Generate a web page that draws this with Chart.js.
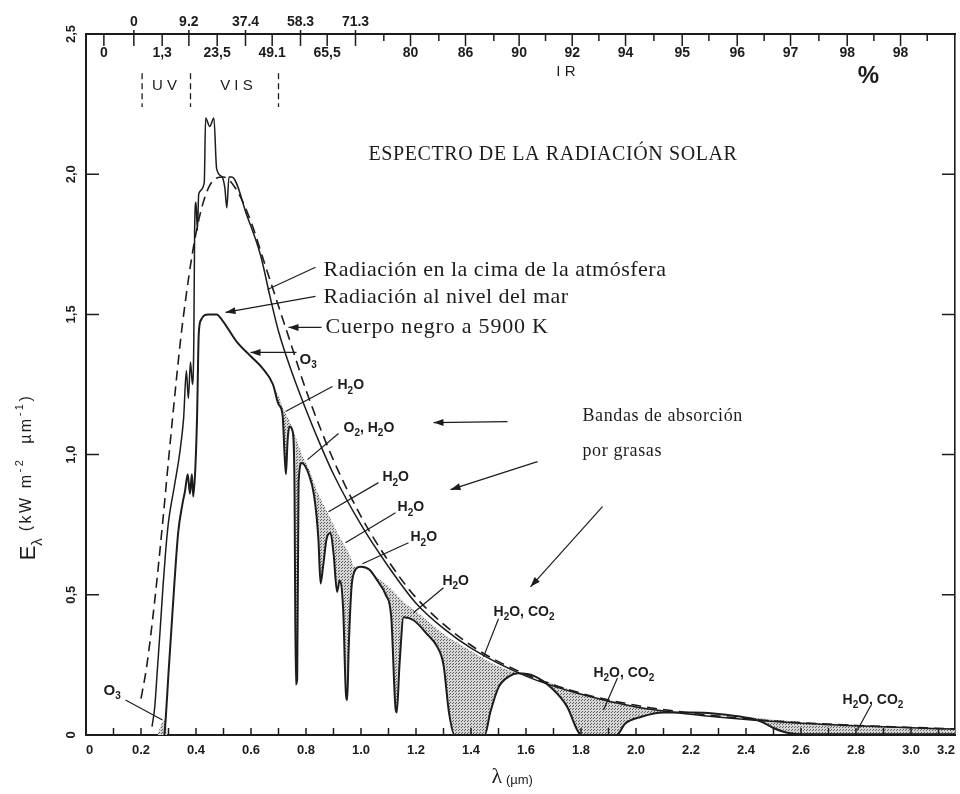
<!DOCTYPE html>
<html lang="es">
<head>
<meta charset="UTF-8">
<title>Espectro de la radiación solar</title>
<script src="https://cdn.jsdelivr.net/npm/chart.js@4"></script>
<style>
  body { margin: 0; background: #fff; }
  canvas { display: block; }
</style>
</head>
<body>
<canvas id="chart" width="960" height="794"></canvas>
<script>
// ---- data (wavelength in µm, E in kW m-2 µm-1) ----
const bbLambda = [0.2, 0.22, 0.25, 0.28, 0.3, 0.33, 0.35, 0.4, 0.45, 0.5, 0.55, 0.6, 0.65, 0.7, 0.75, 0.8, 0.9, 1.0, 1.1, 1.2, 1.4, 1.6, 1.8, 2.0, 2.2, 2.4, 2.6, 2.8, 3.0, 3.16];
const bbE      = [0.13, 0.24, 0.48, 0.77, 0.98, 1.28, 1.46, 1.79, 1.96, 1.99, 1.94, 1.83, 1.68, 1.53, 1.38, 1.23, 0.98, 0.78, 0.62, 0.49, 0.32, 0.216, 0.149, 0.106, 0.078, 0.058, 0.044, 0.034, 0.027, 0.022];

const toaLambda = [0.24, 0.25, 0.26, 0.27, 0.28, 0.29, 0.3, 0.32, 0.34, 0.355, 0.365, 0.372, 0.38, 0.387, 0.392, 0.395, 0.4, 0.405, 0.41, 0.43, 0.435, 0.45, 0.465, 0.475, 0.495, 0.505, 0.512, 0.52, 0.53, 0.586, 0.635, 0.67, 0.7, 0.75, 0.8, 0.85, 0.9, 1.0, 1.1, 1.2, 1.3, 1.4, 1.6, 1.8, 2.0, 2.2, 2.4, 2.6, 2.8, 3.0, 3.16];
const toaE      = [0.03, 0.1, 0.24, 0.38, 0.53, 0.66, 0.76, 0.88, 1.0, 1.13, 1.3, 1.2, 1.33, 1.25, 1.4, 1.8, 1.9, 1.8, 1.93, 1.97, 2.2, 2.17, 2.2, 2.02, 1.99, 1.95, 1.88, 1.99, 1.99, 1.85, 1.71, 1.56, 1.44, 1.29, 1.16, 1.04, 0.93, 0.75, 0.6, 0.47, 0.38, 0.31, 0.21, 0.145, 0.1, 0.074, 0.055, 0.042, 0.033, 0.026, 0.021];

const seaLambda = [0.285, 0.29, 0.3, 0.31, 0.32, 0.335, 0.35, 0.36, 0.37, 0.378, 0.385, 0.39, 0.398, 0.404, 0.41, 0.418, 0.445, 0.475, 0.495, 0.55,
                   0.6, 0.64, 0.68, 0.7, 0.715, 0.722, 0.727, 0.733, 0.74, 0.752, 0.758, 0.763, 0.768, 0.773, 0.785, 0.81, 0.83, 0.845, 0.853, 0.862,
                   0.875, 0.889, 0.9, 0.913, 0.922, 0.935, 0.945, 0.95, 0.955, 0.965, 0.975, 1.0, 1.03, 1.06, 1.09, 1.11, 1.125, 1.13, 1.14, 1.155,
                   1.19, 1.24, 1.277, 1.3, 1.32, 1.34, 1.45, 1.47, 1.5, 1.54, 1.57, 1.63, 1.69, 1.75, 1.785, 1.8, 1.93, 1.96, 2.02, 2.1,
                   2.2, 2.3, 2.4, 2.45, 2.5, 2.55, 2.6, 3.16];
const seaE      = [0, 0.06, 0.22, 0.37, 0.52, 0.72, 0.82, 0.87, 0.93, 0.86, 0.93, 0.85, 0.96, 1.14, 1.43, 1.48, 1.5, 1.5, 1.48, 1.4,
                   1.35, 1.31, 1.25, 1.18, 1.14, 1.0, 0.93, 1.05, 1.1, 1.08, 0.9, 0.18, 0.2, 0.9, 0.97, 0.93, 0.85, 0.7, 0.54, 0.6,
                   0.7, 0.72, 0.65, 0.51, 0.55, 0.45, 0.15, 0.125, 0.3, 0.52, 0.58, 0.6, 0.59, 0.55, 0.5, 0.42, 0.1, 0.08, 0.25, 0.42,
                   0.41, 0.36, 0.315, 0.25, 0.08, 0, 0, 0.08, 0.17, 0.21, 0.22, 0.21, 0.17, 0.1, 0.02, 0, 0, 0.04, 0.065, 0.08,
                   0.08, 0.075, 0.062, 0.05, 0.025, 0.008, 0.003, 0.003];

// upper edge of the shaded absorption bands
const bandLambda = [0.68, 0.7, 0.715, 0.74, 0.76, 0.785, 0.81, 0.84, 0.88, 0.92, 0.96, 0.975, 1.0, 1.06, 1.1, 1.13, 1.16, 1.2, 1.25, 1.3, 1.4, 1.5, 1.57, 1.65, 1.75, 1.85, 1.95, 2.05, 2.15, 2.3, 2.45, 2.6, 2.8, 3.0, 3.16];
const bandE      = [1.25, 1.21, 1.17, 1.12, 1.07, 1.0, 0.95, 0.87, 0.79, 0.71, 0.64, 0.6, 0.6, 0.56, 0.53, 0.5, 0.47, 0.44, 0.4, 0.36, 0.3, 0.245, 0.22, 0.2, 0.165, 0.135, 0.112, 0.095, 0.08, 0.074, 0.06, 0.046, 0.036, 0.028, 0.022];
const ozoneLambda = [0.26, 0.27, 0.28, 0.29, 0.296];
const ozoneE      = [0, 0.03, 0.05, 0.06, 0];

// axis ticks and labels
const xTickVals   = [0, 0.2, 0.4, 0.6, 0.8, 1.0, 1.2, 1.4, 1.6, 1.8, 2.0, 2.2, 2.4, 2.6, 2.8, 3.0, 3.16];
const xTickLabels = ['0', '0.2', '0.4', '0.6', '0.8', '1.0', '1.2', '1.4', '1.6', '1.8', '2.0', '2.2', '2.4', '2.6', '2.8', '3.0', '3.2'];
const yTickVals   = [0, 0.5, 1, 1.5, 2, 2.5];
const yTickLabels = ['0', '0,5', '1,0', '1,5', '2,0', '2,5'];
// cumulative energy (%) scale along the top
const topTickPos  = [0.065, 0.174, 0.277, 0.374, 0.477, 0.58, 0.677, 0.78, 0.877, 0.98, 1.083, 1.18, 1.283, 1.38, 1.483, 1.575, 1.671, 1.768, 1.865, 1.962, 2.065, 2.168, 2.265, 2.368, 2.466, 2.562, 2.665, 2.768, 2.865, 2.962, 3.059];
const topTickText = ['0', '0', '1,3', '9.2', '23,5', '37.4', '49.1', '58.3', '65,5', '71.3', '', '80', '', '86', '', '90', '', '92', '', '94', '', '95', '', '96', '', '97', '', '98', '', '98', ''];
const topTickRow  = ['b', 'a', 'b', 'a', 'b', 'a', 'b', 'a', 'b', 'a', '', 'b', '', 'b', '', 'b', '', 'b', '', 'b', '', 'b', '', 'b', '', 'b', '', 'b', '', 'b', ''];

const INK = '#1c1c1c';
const SANS = '"Liberation Sans", Arial, sans-serif';
const SERIF = '"Liberation Serif", "Times New Roman", serif';

// annotations, placed in data units
const notes = [
    {t: 'ESPECTRO DE LA RADIACIÓN SOLAR', x: 1.027, y: 2.071, font: SERIF, size: 20, w: 'normal', ls: 0.6},
    {t: 'Radiación en la cima de la atmósfera', x: 0.8636, y: 1.657, font: SERIF, size: 22, w: 'normal', ls: 0.5},
    {t: 'Radiación al nivel del mar', x: 0.8636, y: 1.561, font: SERIF, size: 22, w: 'normal', ls: 0.5},
    {t: 'Cuerpo negro a 5900 K', x: 0.8709, y: 1.4536, font: SERIF, size: 22, w: 'normal', ls: 0.8},
    {t: 'Bandas de absorción', x: 1.8055, y: 1.1357, font: SERIF, size: 18, w: 'normal', ls: 0.6},
    {t: 'por grasas', x: 1.8055, y: 1.0107, font: SERIF, size: 18, w: 'normal', ls: 0.6},
    {t: 'O_3', x: 0.7764, y: 1.339, font: SANS, size: 15, w: 'bold', ls: 0},
    {t: 'H_2O', x: 0.9145, y: 1.246, font: SANS, size: 14, w: 'bold', ls: 0},
    {t: 'O_2, H_2O', x: 0.9364, y: 1.096, font: SANS, size: 14, w: 'bold', ls: 0},
    {t: 'H_2O', x: 1.078, y: 0.918, font: SANS, size: 14, w: 'bold', ls: 0},
    {t: 'H_2O', x: 1.133, y: 0.811, font: SANS, size: 14, w: 'bold', ls: 0},
    {t: 'H_2O', x: 1.18, y: 0.704, font: SANS, size: 14, w: 'bold', ls: 0},
    {t: 'H_2O', x: 1.296, y: 0.55, font: SANS, size: 14, w: 'bold', ls: 0},
    {t: 'H_2O, CO_2', x: 1.482, y: 0.439, font: SANS, size: 14, w: 'bold', ls: 0},
    {t: 'H_2O, CO_2', x: 1.845, y: 0.221, font: SANS, size: 14, w: 'bold', ls: 0},
    {t: 'H_2O, CO_2', x: 2.751, y: 0.125, font: SANS, size: 14, w: 'bold', ls: 0},
    {t: 'O_3', x: 0.0636, y: 0.157, font: SANS, size: 15, w: 'bold', ls: 0},
];
// leader lines [x1, y1, x2, y2, arrowhead at end]
const leaders = [
    [0.8345, 1.6679, 0.66, 1.589, false],
    [0.8345, 1.5643, 0.5073, 1.5071, true],
    [0.8564, 1.4536, 0.7364, 1.4536, true],
    [0.7655, 1.3643, 0.5982, 1.3643, true],
    [0.8964, 1.2429, 0.7255, 1.1536, false],
    [0.9182, 1.075, 0.8055, 0.9821, false],
    [1.0636, 0.9, 0.8818, 0.7964, false],
    [1.1255, 0.7929, 0.9436, 0.6857, false],
    [1.1727, 0.6857, 1.0055, 0.6107, false],
    [1.3, 0.525, 1.1909, 0.4357, false],
    [1.5, 0.4143, 1.4455, 0.2786, false],
    [1.9327, 0.2036, 1.8818, 0.0893, false],
    [2.8527, 0.1036, 2.8055, 0.0179, false],
    [0.1436, 0.125, 0.2782, 0.0536, false],
    [1.5327, 1.1179, 1.2636, 1.1143, true],
    [1.6418, 0.975, 1.3255, 0.875, true],
    [1.8782, 0.8143, 1.6164, 0.5286, true],
];
const regionEdges = [0.204, 0.38, 0.7];

function toPoints(xs, ys) {
    return xs.map((x, i) => ({x: x, y: ys[i]}));
}

function parseRich(str) {
    const parts = [];
    let i = 0;
    while (i < str.length) {
        const c = str[i];
        if (c === '_' || c === '^') {
            let t;
            if (str[i + 1] === '{') {
                const j = str.indexOf('}', i);
                t = str.slice(i + 2, j);
                i = j + 1;
            } else {
                t = str[i + 1];
                i += 2;
            }
            parts.push({t: t, mode: c});
        } else {
            let j = i;
            while (j < str.length && str[j] !== '_' && str[j] !== '^') j++;
            parts.push({t: str.slice(i, j), mode: ''});
            i = j;
        }
    }
    return parts;
}

function richFont(p, size, family, weight) {
    return `${weight} ${p.mode ? Math.round(size * 0.68) : size}px ${family}`;
}

function measureRich(ctx, str, size, family, weight) {
    let w = 0;
    parseRich(str).forEach(p => {
        ctx.font = richFont(p, size, family, weight);
        w += ctx.measureText(p.t).width;
    });
    return w;
}

// draws text with _sub and ^{sup}; returns the x where it ends
function drawRich(ctx, str, x, y, size, family, weight) {
    let cx = x;
    ctx.textAlign = 'left';
    ctx.textBaseline = 'middle';
    parseRich(str).forEach(p => {
        ctx.font = richFont(p, size, family, weight);
        const dy = p.mode === '_' ? size * 0.38 : (p.mode === '^' ? -size * 0.42 : 0);
        ctx.fillText(p.t, cx, y + dy);
        cx += ctx.measureText(p.t).width;
    });
    return cx;
}

function arrowLine(ctx, x1, y1, x2, y2, head) {
    ctx.beginPath();
    ctx.moveTo(x1, y1);
    ctx.lineTo(x2, y2);
    ctx.stroke();
    if (head) {
        const a = Math.atan2(y2 - y1, x2 - x1);
        ctx.beginPath();
        ctx.moveTo(x2, y2);
        ctx.lineTo(x2 - 10 * Math.cos(a) + 3.5 * Math.sin(a), y2 - 10 * Math.sin(a) - 3.5 * Math.cos(a));
        ctx.lineTo(x2 - 10 * Math.cos(a) - 3.5 * Math.sin(a), y2 - 10 * Math.sin(a) + 3.5 * Math.cos(a));
        ctx.closePath();
        ctx.fill();
    }
}

const decor = {
    id: 'decor',
    afterDraw(chart) {
        const {ctx, chartArea: a, scales: {x, y}} = chart;
        const px = v => x.getPixelForValue(v);
        const py = v => y.getPixelForValue(v);
        ctx.save();
        ctx.strokeStyle = INK;
        ctx.fillStyle = INK;

        // inward tick marks on all four sides
        ctx.lineWidth = 1.5;
        ctx.beginPath();
        for (let i = 1; i <= 31; i++) {
            const xp = px(i / 10);
            ctx.moveTo(xp, a.bottom);
            ctx.lineTo(xp, a.bottom - 7);
        }
        [0.5, 1, 1.5, 2].forEach(v => {
            ctx.moveTo(a.left, py(v)); ctx.lineTo(a.left + 13, py(v));
            ctx.moveTo(a.right, py(v)); ctx.lineTo(a.right - 13, py(v));
        });
        topTickPos.forEach((v, i) => {
            ctx.moveTo(px(v), a.top - (topTickRow[i] === 'a' ? 4 : 0));
            ctx.lineTo(px(v), a.top + (topTickText[i] ? 12 : 7));
        });
        ctx.stroke();

        // percentage labels on the top scale
        ctx.font = `bold 14px ${SANS}`;
        ctx.textAlign = 'center';
        ctx.textBaseline = 'middle';
        topTickPos.forEach((v, i) => {
            if (!topTickText[i]) return;
            ctx.fillText(topTickText[i], px(v), topTickRow[i] === 'a' ? a.top - 12 : a.top + 19);
        });
        ctx.font = `bold 24px ${SANS}`;
        ctx.fillText('%', px(2.845), py(2.35));

        // UV / VIS / IR
        ctx.lineWidth = 1.3;
        ctx.setLineDash([6, 4]);
        ctx.beginPath();
        regionEdges.forEach(v => {
            ctx.moveTo(px(v), py(2.36));
            ctx.lineTo(px(v), py(2.24));
        });
        ctx.stroke();
        ctx.setLineDash([]);
        ctx.font = `15px ${SANS}`;
        ctx.fillText('U V', px(0.2855), py(2.314));
        ctx.fillText('V I S', px(0.547), py(2.314));
        ctx.fillText('I R', px(1.745), py(2.364));

        // notes and leader lines
        notes.forEach(n => {
            ctx.letterSpacing = n.ls + 'px';
            drawRich(ctx, n.t, px(n.x), py(n.y), n.size, n.font, n.w);
        });
        ctx.letterSpacing = '0px';
        ctx.lineWidth = 1.2;
        leaders.forEach(l => arrowLine(ctx, px(l[0]), py(l[1]), px(l[2]), py(l[3]), l[4]));

        // axis titles
        const yt1 = 'E_λ', yt2 = ' (kW m^{-2}  µm^{-1})';
        const w1 = measureRich(ctx, yt1, 22, SANS, 'normal');
        ctx.letterSpacing = '2.5px';
        const w2 = measureRich(ctx, yt2, 16, SANS, 'normal');
        ctx.save();
        ctx.translate(a.left - 57, py(0.92));
        ctx.rotate(-Math.PI / 2);
        ctx.letterSpacing = '0px';
        const e = drawRich(ctx, yt1, -(w1 + w2) / 2, 0, 22, SANS, 'normal');
        ctx.letterSpacing = '2.5px';
        drawRich(ctx, yt2, e, -2, 16, SANS, 'normal');
        ctx.restore();
        ctx.letterSpacing = '0px';

        const xw1 = measureRich(ctx, 'λ', 22, SERIF, 'normal');
        const xw2 = measureRich(ctx, ' (µm)', 13, SANS, 'normal');
        const xs = px(1.55) - (xw1 + xw2) / 2;
        const xe = drawRich(ctx, 'λ', xs, a.bottom + 42, 22, SERIF, 'normal');
        drawRich(ctx, ' (µm)', xe, a.bottom + 45, 13, SANS, 'normal');
        ctx.restore();
    }
};

const canvas = document.getElementById('chart');
const ctx = canvas.getContext('2d');

function stipple() {
    const c = document.createElement('canvas');
    c.width = 3;
    c.height = 3;
    const g = c.getContext('2d');
    g.fillStyle = '#d6d6d6';
    g.fillRect(0, 0, 3, 3);
    g.fillStyle = '#5e5e5e';
    g.fillRect(0, 0, 1, 1);
    g.fillRect(2, 1, 1, 1);
    return ctx.createPattern(c, 'repeat');
}
const dots = stipple();

const tickFont = {family: SANS, size: 13, weight: 'bold'};

new Chart(ctx, {
    type: 'line',
    data: {
        datasets: [
            {   // black body 5900 K
                data: toPoints(bbLambda, bbE),
                borderColor: INK, borderWidth: 1.6, borderDash: [10, 6],
                cubicInterpolationMode: 'monotone', fill: false,
            },
            {   // top of the atmosphere
                data: toPoints(toaLambda, toaE),
                borderColor: INK, borderWidth: 1.5,
                cubicInterpolationMode: 'monotone', fill: false,
            },
            {   // sea level
                data: toPoints(seaLambda, seaE),
                borderColor: INK, borderWidth: 2,
                cubicInterpolationMode: 'monotone', fill: false,
            },
            {   // absorption bands, shaded down to the sea level curve
                data: toPoints(bandLambda, bandE),
                borderWidth: 0, borderColor: 'rgba(0,0,0,0)',
                cubicInterpolationMode: 'monotone',
                fill: {target: 2, above: dots, below: 'rgba(0,0,0,0)'},
            },
            {   // ozone cut-off
                data: toPoints(ozoneLambda, ozoneE),
                borderWidth: 0, borderColor: 'rgba(0,0,0,0)',
                fill: {target: 'origin', above: dots},
            },
        ]
    },
    options: {
        responsive: false,
        animation: false,
        layout: {padding: {left: 0, right: 5, top: 0, bottom: 0}},
        elements: {point: {radius: 0}},
        plugins: {
            legend: {display: false},
            tooltip: {enabled: false},
        },
        scales: {
            x: {
                type: 'linear', position: 'bottom', min: 0, max: 3.16,
                afterBuildTicks: s => { s.ticks = xTickVals.map(v => ({value: v})); },
                ticks: {
                    callback: (v, i) => xTickLabels[i],
                    align: 'inner', autoSkip: false, maxRotation: 0,
                    padding: 8, color: INK, font: tickFont,
                },
                grid: {display: false, drawTicks: false},
                border: {display: true, color: INK, width: 2},
                afterFit: s => { s.height = 59; s.paddingLeft = 0; s.paddingRight = 0; },
            },
            x2: {
                type: 'linear', position: 'top', min: 0, max: 3.16,
                ticks: {display: false},
                grid: {display: false, drawTicks: false},
                border: {display: true, color: INK, width: 2},
                afterFit: s => { s.height = 34; s.paddingLeft = 0; s.paddingRight = 0; },
            },
            y: {
                min: 0, max: 2.5,
                afterBuildTicks: s => { s.ticks = yTickVals.map(v => ({value: v})); },
                ticks: {
                    callback: (v, i) => yTickLabels[i],
                    minRotation: 90, maxRotation: 90, crossAlign: 'center',
                    padding: 6, color: INK, font: tickFont,
                },
                grid: {display: false, drawTicks: false},
                border: {display: true, color: INK, width: 2},
                afterFit: s => { s.width = 86; s.paddingTop = 0; s.paddingBottom = 0; },
            },
            y2: {
                position: 'right', min: 0, max: 2.5,
                ticks: {display: false},
                grid: {display: false, drawTicks: false},
                border: {display: true, color: INK, width: 1.6},
                afterFit: s => { s.width = 0; s.paddingTop = 0; s.paddingBottom = 0; },
            },
        }
    },
    plugins: [decor]
});
</script>
</body>
</html>
